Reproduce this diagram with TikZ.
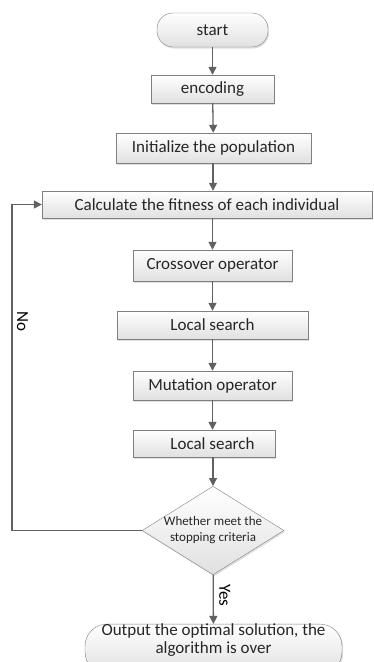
\documentclass[tikz,border=0pt]{standalone}
\usepackage{fontspec}
\setmainfont{Carlito}
\usetikzlibrary{arrows.meta,shapes.geometric,shadows}
\tikzset{
  box/.style={draw=black!50,top color=white,bottom color=black!12,
    drop shadow={opacity=0.25,shadow xshift=1.2pt,shadow yshift=-1.5pt},
    inner sep=0pt,text=black!85},
  term/.style={box,rounded corners=16pt},
  flow/.style={draw=black!62,line width=1.3pt,-{Triangle[length=8pt,width=8pt]}},
}
\begin{document}
\begin{tikzpicture}[x=1pt,y=-1pt,font=\fontsize{17}{19}\selectfont]
        \useasboundingbox (0,0) rectangle (373,662);
        \clip (0,0) rectangle (373,662);
        %% steps
        \node[term,minimum width=111pt,minimum height=34pt] (start) at (212.5,30) {start};
        \node[box,minimum width=123pt,minimum height=28pt] (enc) at (212.5,89) {encoding};
        \node[box,minimum width=195pt,minimum height=30pt] (init) at (213.5,148) {Initialize the population};
        \node[box,minimum width=330pt,minimum height=27pt] (fit) at (207,204.5) {Calculate the fitness of each individual};
        \node[box,minimum width=159pt,minimum height=31pt] (cross) at (212.5,265.5) {Crossover operator};
        \node[box,minimum width=191pt,minimum height=28pt] (ls1) at (212.5,325) {Local search};
        \node[box,minimum width=159pt,minimum height=29pt] (mut) at (212.5,385.5) {Mutation operator};
        \node[box,minimum width=142pt,minimum height=27pt] (ls2) at (204,443.5) {\hspace*{17pt}Local search};
        \node[box,diamond,aspect=1.6,minimum width=140pt,minimum height=87pt,
              font=\fontsize{13}{16}\selectfont,align=center] (stop) at (213,530.5) {Whether meet the\\stopping criteria};
        \node[term,rounded corners=22pt,minimum width=257pt,minimum height=48pt,align=center,
              font=\fontsize{17}{17.5}\selectfont] (out) at (213.5,649)
              {Output the optimal solution, the\\algorithm is over\\[3pt]\mbox{}};
        %% arrows
        \draw[flow] (start) -- (enc);
        \draw[flow] (enc) -- (init);
        \draw[flow] ([xshift=-0.5pt]init.south) -- ([xshift=-0.5pt]init.south |- fit.north);
        \draw[flow] (cross.north |- fit.south) -- (cross);
        \draw[flow] (cross) -- (ls1);
        \draw[flow] (ls1) -- (mut);
        \draw[flow] (mut) -- (mut.south |- ls2.north);
        \draw[flow] (stop.north |- ls2.south) -- (stop);
        \draw[flow] (stop) -- node[pos=0.42,anchor=south,rotate=-90,yshift=2pt] {Yes} (out);
        %% loop back
        \coordinate (back) at (12,530.5);
        \draw[flow] (stop.west) -- (back) |- node[pos=0.32,anchor=south,rotate=-90,yshift=1pt] {No} (fit.west);
\end{tikzpicture}
\end{document}
